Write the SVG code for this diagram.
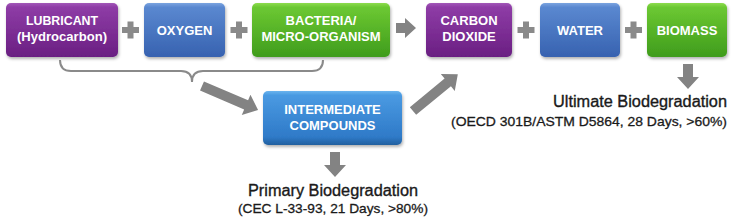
<svg xmlns="http://www.w3.org/2000/svg" width="737" height="220" viewBox="0 0 737 220">
<defs>
<linearGradient id="gPurple" x1="0" y1="0" x2="0" y2="1">
<stop offset="0" stop-color="#a257b8"/><stop offset="0.08" stop-color="#8e3ca6"/><stop offset="1" stop-color="#6a1f82"/>
</linearGradient>
<linearGradient id="gBlue" x1="0" y1="0" x2="0" y2="1">
<stop offset="0" stop-color="#7aa4df"/><stop offset="0.08" stop-color="#5a88d0"/><stop offset="1" stop-color="#3762b0"/>
</linearGradient>
<linearGradient id="gGreen" x1="0" y1="0" x2="0" y2="1">
<stop offset="0" stop-color="#8ddc4e"/><stop offset="0.08" stop-color="#6cc832"/><stop offset="1" stop-color="#3f9c1c"/>
</linearGradient>
<linearGradient id="gBright" x1="0" y1="0" x2="0" y2="1">
<stop offset="0" stop-color="#6ab4ee"/><stop offset="0.08" stop-color="#4a9ae2"/><stop offset="0.85" stop-color="#2f7ac8"/><stop offset="1" stop-color="#22609f"/>
</linearGradient>
<filter id="sh" x="-10%" y="-10%" width="125%" height="135%">
<feDropShadow dx="1" dy="2" stdDeviation="1.5" flood-color="#000" flood-opacity="0.3"/>
</filter>
</defs>
<style>
.box{filter:url(#sh)}
.lbl{font-family:"Liberation Sans",Arial,sans-serif;font-weight:bold;font-size:13px;fill:#fff;text-anchor:middle}
.plus{fill:#8a8a8a}
.arr{fill:#838383}
.brace{fill:none;stroke:#8a8a8a;stroke-width:2}
.title{font-family:"Liberation Sans",Arial,sans-serif;font-size:16px;fill:#1a1a1a;stroke:#1a1a1a;stroke-width:0.35}
.sub{font-family:"Liberation Sans",Arial,sans-serif;font-size:13.5px;fill:#1a1a1a;stroke:#1a1a1a;stroke-width:0.3}
</style>

<g id="lubricant">
<rect class="box" x="6" y="3" width="112" height="54" rx="5" fill="url(#gPurple)"/>
<text class="lbl" x="62" y="25" textLength="72" lengthAdjust="spacingAndGlyphs">LUBRICANT</text>
<text class="lbl" x="62" y="41" textLength="90" lengthAdjust="spacingAndGlyphs">(Hydrocarbon)</text>
</g>
<g id="plus1"><path class="plus" d="M127.5,21.5 h6 v5.5 h5.5 v6 h-5.5 v5.5 h-6 v-5.5 h-5.5 v-6 h5.5 z"/></g>
<g id="oxygen">
<rect class="box" x="144" y="3" width="81" height="54" rx="5" fill="url(#gBlue)"/>
<text class="lbl" x="184.5" y="35">OXYGEN</text>
</g>
<g id="plus2"><path class="plus" d="M236,21.5 h6 v5.5 h5.5 v6 h-5.5 v5.5 h-6 v-5.5 h-5.5 v-6 h5.5 z"/></g>
<g id="bacteria">
<rect class="box" x="252" y="3" width="138" height="54" rx="5" fill="url(#gGreen)"/>
<text class="lbl" x="321" y="25">BACTERIA/</text>
<text class="lbl" x="321" y="41">MICRO-ORGANISM</text>
</g>
<g id="carbon">
<rect class="box" x="426" y="3" width="86" height="54" rx="5" fill="url(#gPurple)"/>
<text class="lbl" x="469" y="25">CARBON</text>
<text class="lbl" x="469" y="41">DIOXIDE</text>
</g>
<g id="plus3"><path class="plus" d="M523,21.5 h6 v5.5 h5.5 v6 h-5.5 v5.5 h-6 v-5.5 h-5.5 v-6 h5.5 z"/></g>
<g id="water">
<rect class="box" x="540" y="3" width="80" height="54" rx="5" fill="url(#gBlue)"/>
<text class="lbl" x="580" y="35">WATER</text>
</g>
<g id="plus4"><path class="plus" d="M630.5,21.5 h6 v5.5 h5.5 v6 h-5.5 v5.5 h-6 v-5.5 h-5.5 v-6 h5.5 z"/></g>
<g id="biomass">
<rect class="box" x="647" y="3" width="80" height="54" rx="5" fill="url(#gGreen)"/>
<text class="lbl" x="687" y="35">BIOMASS</text>
</g>
<g id="intermediate">
<rect class="box" x="263" y="91" width="139" height="54" rx="5" fill="url(#gBright)"/>
<text class="lbl" x="332.5" y="114">INTERMEDIATE</text>
<text class="lbl" x="332.5" y="130">COMPOUNDS</text>
</g>

<g id="connectors">
<path class="brace" d="M60,60 Q60,71 71,71 H181 Q192,71 192,82 Q192,71 203,71 H312 Q323,71 323,60"/>
<path class="arr" d="M0,-5 H9 V-10 L20,0 L9,10 V5 H0 Z" transform="translate(396,28)"/>
<path class="arr" d="M0,-5 H48 V-11 L61,0 L48,11 V5 H0 Z" transform="translate(202,86) rotate(23.2)"/>
<path class="arr" d="M0,-5 H45 V-11 L58,0 L45,11 V5 H0 Z" transform="translate(413,111) rotate(-39.4)"/>
<path class="arr" d="M0,-5 H13 V-11 L25,0 L13,11 V5 H0 Z" transform="translate(335,152) rotate(90)"/>
<path class="arr" d="M0,-5 H13 V-11 L25,0 L13,11 V5 H0 Z" transform="translate(688,64) rotate(90)"/>
</g>

<g id="primary">
<text class="title" x="333" y="196" text-anchor="middle" textLength="170" lengthAdjust="spacingAndGlyphs">Primary Biodegradation</text>
<text class="sub" x="333" y="213" text-anchor="middle" textLength="190" lengthAdjust="spacingAndGlyphs">(CEC L-33-93, 21 Days, &gt;80%)</text>
</g>
<g id="ultimate">
<text class="title" x="727" y="107" text-anchor="end" textLength="174" lengthAdjust="spacingAndGlyphs">Ultimate Biodegradation</text>
<text class="sub" x="727" y="126" text-anchor="end" textLength="276" lengthAdjust="spacingAndGlyphs">(OECD 301B/ASTM D5864, 28 Days, &gt;60%)</text>
</g>
</svg>
